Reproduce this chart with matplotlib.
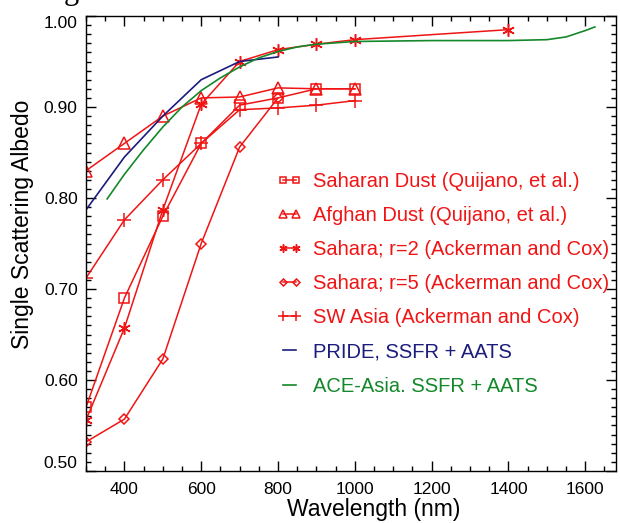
import matplotlib
matplotlib.use('Agg')
import matplotlib.pyplot as plt
from matplotlib.ticker import MultipleLocator

plt.rcParams['font.family'] = ['Liberation Sans', 'DejaVu Sans']

# values
wl_q = [300, 400, 500, 600, 700, 800, 900, 1000]
saharan_dust = [0.570, 0.690, 0.780, 0.860, 0.902, 0.910, 0.920, 0.920]
afghan_dust = [0.830, 0.860, 0.890, 0.910, 0.911, 0.921, 0.920, 0.920]

wl_r2 = [300, 400, 500, 600, 700, 800, 900, 1000, 1400]
sahara_r2 = [0.556, 0.657, 0.787, 0.903, 0.950, 0.963, 0.969, 0.974, 0.985]

wl_r5 = [300, 400, 500, 600, 700, 800]
sahara_r5 = [0.532, 0.557, 0.623, 0.750, 0.856, 0.910]

wl_sw = [300, 400, 500, 600, 700, 800, 900, 1000]
sw_asia = [0.712, 0.776, 0.820, 0.860, 0.897, 0.899, 0.902, 0.907]

wl_pride = [300, 400, 500, 600, 700, 800]
pride = [0.787, 0.845, 0.890, 0.930, 0.950, 0.955]

wl_ace = [355, 400, 450, 500, 550, 600, 650, 700, 750, 800, 850, 900,
          1000, 1200, 1400, 1500, 1550, 1600, 1625]
ace_asia = [0.799, 0.826, 0.853, 0.878, 0.900, 0.918, 0.932, 0.944, 0.954,
            0.961, 0.966, 0.969, 0.972, 0.973, 0.973, 0.974, 0.977, 0.984, 0.988]

red = '#f01414'
navy = '#1c1c7c'
green = '#14882a'

fig = plt.figure(figsize=(6.2, 5.23), dpi=100)
ax = fig.add_axes([86/620, 1-471/523, 530/620, 455/523])

mk = dict(color=red, lw=1.1, mfc='none', mec=red, mew=1.1)
ax.plot(wl_q, saharan_dust, marker='s', ms=7.5, label='Saharan Dust (Quijano, et al.)', **mk)
ax.plot(wl_q, afghan_dust, marker='^', ms=8, label='Afghan Dust (Quijano, et al.)', **mk)
ax.plot(wl_r2, sahara_r2, marker=(6, 2, 0), ms=9, label='Sahara; r=2 (Ackerman and Cox)', **mk)
ax.plot(wl_r5, sahara_r5, marker='D', ms=5.5, label='Sahara; r=5 (Ackerman and Cox)', **mk)
ax.plot(wl_sw, sw_asia, marker='+', ms=10, label='SW Asia (Ackerman and Cox)', **mk)
ax.plot(wl_pride, pride, color=navy, lw=1.2, label='PRIDE, SSFR + AATS')
ax.plot(wl_ace, ace_asia, color=green, lw=1.2, label='ACE-Asia. SSFR + AATS')

ax.set_xlim(300, 1680)
ax.set_ylim(0.50, 1.00)
ax.set_xticks([400, 600, 800, 1000, 1200, 1400, 1600])
ax.xaxis.set_minor_locator(MultipleLocator(50))
ax.set_yticks([0.5, 0.6, 0.7, 0.8, 0.9, 1.0])
ax.set_yticklabels(['0.50', '0.60', '0.70', '0.80', '0.90', '1.00'])
ax.yaxis.set_minor_locator(MultipleLocator(0.01))
ax.tick_params(which='both', direction='in', top=True, right=True, labelsize=12.5, width=1.0)
ax.tick_params(which='major', length=7)
ax.tick_params(which='minor', length=3.5)
ax.tick_params(axis='x', pad=8)
ax.tick_params(axis='y', pad=6)
for s in ax.spines.values():
    s.set_linewidth(1.0)
ylabs = ax.get_yticklabels()
ylabs[0].set_va('bottom')
ylabs[-1].set_va('top')

ax.set_xlabel('Wavelength (nm)', fontsize=16.5)
ax.xaxis.set_label_coords(0.543, -0.060)
ax.set_ylabel('Single Scattering Albedo', fontsize=16.5)
ax.yaxis.set_label_coords(-0.098, 0.542)

leg = ax.legend(loc='upper left', bbox_to_anchor=(277/620, 1-172/523),
                bbox_transform=fig.transFigure, frameon=False, fontsize=14.5,
                numpoints=2, handlelength=1.25, handletextpad=0.55,
                labelspacing=0.75, borderpad=0, borderaxespad=0,
                markerscale=0.65, labelcolor='linecolor')

# cut-off letter from the text above the plot
fig.text(71/620, 1.002, 'g', fontsize=22, family='Liberation Serif',
         ha='center', va='baseline')

fig.savefig('out.png', dpi=100)
